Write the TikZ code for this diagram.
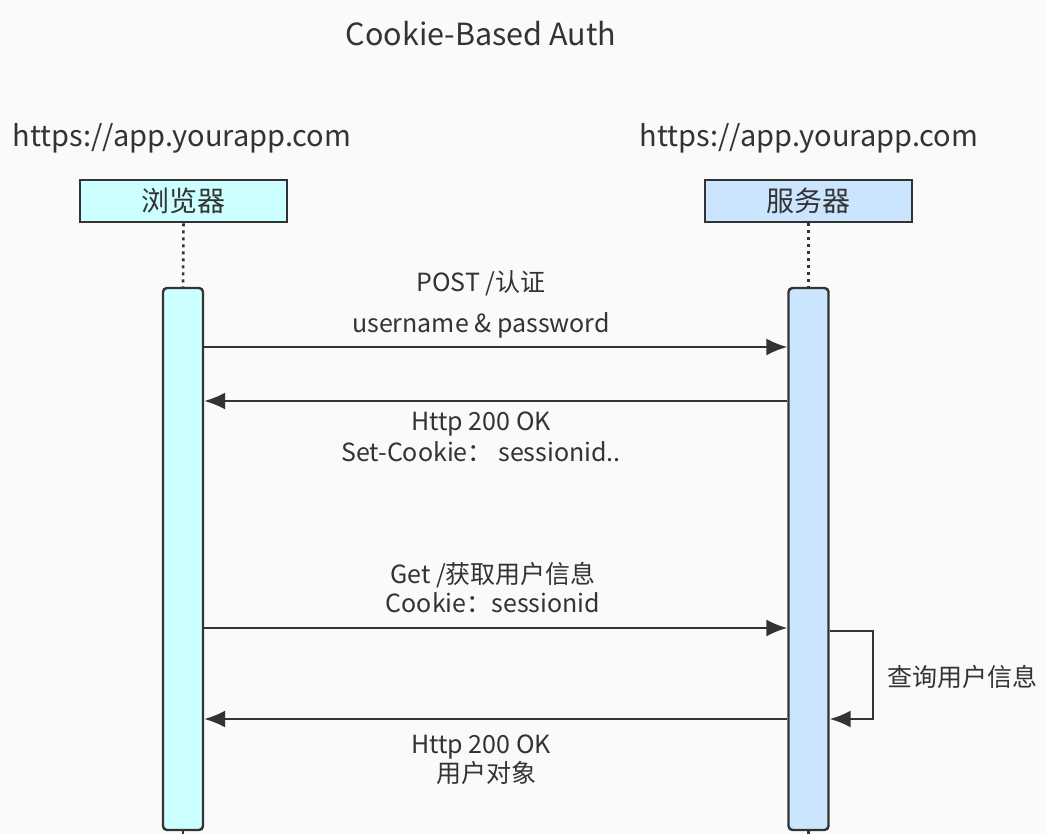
\documentclass[tikz,border=0pt]{standalone}
\usepackage{fontspec}
\setmainfont{Noto Sans CJK SC}
\usetikzlibrary{arrows.meta,calc}
\definecolor{bg}{HTML}{FAFAFA}
\definecolor{ink}{HTML}{333333}
\definecolor{cyanfill}{HTML}{CCFFFF}
\definecolor{bluefill}{HTML}{CCE5FF}
\tikzset{
  txt/.style={text=ink,font=\fontsize{25}{29}\selectfont,inner sep=0pt,anchor=base},
  bigtxt/.style={txt,font=\fontsize{29}{33}\selectfont},
  actor/.style={draw=ink,line width=2.6pt,minimum width=207pt,minimum height=42pt,inner sep=0pt,text=ink,font=\fontsize{28}{32}\selectfont},
  actbar/.style={draw=ink,line width=2.4pt,rounded corners=4pt,minimum width=40pt,minimum height=542pt,inner sep=0pt},
  life/.style={draw=ink,line width=2.6pt,dash pattern=on 3pt off 4pt},
  msg/.style={draw=ink,line width=2pt,-{Latex[length=21pt,width=17pt]}}
}
\begin{document}
\begin{tikzpicture}[x=1pt,y=-1pt]
\fill[bg] (0,0) rectangle (1046,834);
\useasboundingbox (0,0) rectangle (1046,834);
\node[bigtxt,font=\fontsize{30.5}{34}\selectfont] (title) at (481,46) {Cookie-Based Auth};
\node[bigtxt] (urlL) at (182,147) {https://app.yourapp.com};
\node[bigtxt] (urlR) at (809,147) {https://app.yourapp.com};
\node[actor,fill=cyanfill] (browser) at (183.5,201) {浏览器};
\node[actor,fill=bluefill] (server) at (808.5,201) {服务器};
\node[actbar,fill=cyanfill] (bA) at (183,559) {};
\node[actbar,fill=bluefill] (sA) at (808.5,559) {};
\draw[life] (browser.south) -- (bA.north);
\draw[life] (server.south) -- (sA.north);
\coordinate (bEnd) at (183,834);
\coordinate (sEnd) at (808.5,834);
\draw[ink,line width=2.4pt] (bA.south) -- (bEnd);
\draw[ink,line width=2.4pt] (sA.south) -- (sEnd);
% message 1
\draw[msg] (bA.east |- 0,347) -- (sA.west |- 0,347);
\node[txt] (m1a) at (481,291) {POST /认证};
\node[txt] (m1b) at (481,332) {username \& password};
% message 2
\draw[msg] (sA.west |- 0,401) -- (bA.east |- 0,401);
\node[txt] (m2a) at (481,430) {Http 200 OK};
\node[txt] (m2b) at (481,461) {Set-Cookie：\ sessionid..};
% message 3
\draw[msg] (bA.east |- 0,628) -- (sA.west |- 0,628);
\node[txt] (m3a) at (493,583) {Get /获取用户信息};
\node[txt] (m3b) at (493,612) {Cookie：sessionid};
% self
\draw[msg] (sA.east |- 0,631) -- ++(43,0) |- (sA.east |- 0,719);
\node[txt,anchor=base west] (self) at (887,686) {查询用户信息};
% message 4
\draw[msg] (sA.west |- 0,719) -- (bA.east |- 0,719);
\node[txt] (m4a) at (481,753) {Http 200 OK};
\node[txt] (m4b) at (486,782) {用户对象};
\end{tikzpicture}
\end{document}
